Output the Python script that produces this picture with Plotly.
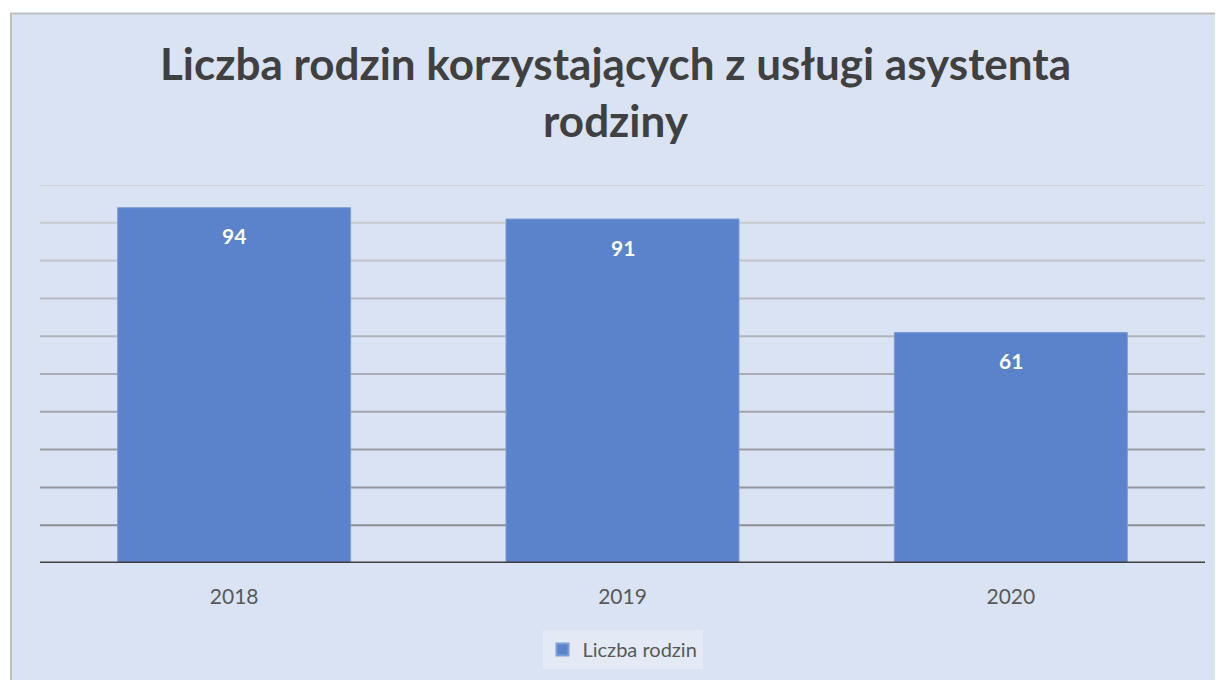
import plotly.graph_objects as go

YEARS = ["2018", "2019", "2020"]
FAMILIES = [94, 91, 61]
SERIES_NAME = "Liczba rodzin"
TITLE = "Liczba rodzin korzystających z usługi asystenta<br>rodziny"
GRID_VALUES = [10, 20, 30, 40, 50, 60, 70, 80, 90, 100]

BAR_COLOR = "#5a83cb"
CARD_BG = "#dae3f3"
TEXT_GREY = "#595959"

# page body has an 8px margin, so the figure is 8px smaller than the window
FIG_W, FIG_H = 1215, 672
L, R, T, B = 32, 18, 177, 116
W = FIG_W - L - R
H = FIG_H - T - B

fig = go.Figure()
fig.add_trace(
    go.Bar(
        x=YEARS,
        y=FAMILIES,
        name=SERIES_NAME,
        marker=dict(color=BAR_COLOR, line=dict(color="#7d9dd6", width=1)),
        showlegend=True,
    )
)

# white value labels just inside the top of each bar
# (category index, since "2018" would be read as index 2018 on a category axis)
for idx, val in enumerate(FAMILIES):
    fig.add_annotation(
        x=idx, y=val, xref="x", yref="y",
        text=str(val), showarrow=False,
        yanchor="middle", yshift=-28,
        font=dict(family="Lato", size=21, color="white", weight="bold"),
    )

# card background with grey border, running past right/bottom edges
fig.add_shape(
    type="rect",
    xref="paper", yref="paper",
    x0=(3 - L) / W, x1=(FIG_W + 10 - L) / W,
    y0=-(FIG_H + 10 - (FIG_H - B)) / H, y1=((FIG_H - B) - 5) / H,
    fillcolor=CARD_BG,
    line=dict(color="#bfbfbf", width=2),
    layer="below",
)

# gridlines fade from light (top) to dark (bottom)
n = len(GRID_VALUES)
for i, v in enumerate(GRID_VALUES):
    t = (n - 1 - i) / (n - 1)
    c = int(0xcf - (0xcf - 0x8c) * t)
    col = f"rgb({c},{c + 3},{c + 10})"
    fig.add_shape(
        type="line",
        xref="x domain", yref="y",
        x0=0, x1=1, y0=v, y1=v,
        line=dict(color=col, width=2),
        layer="below",
    )
fig.add_shape(
    type="line",
    xref="x domain", yref="y",
    x0=0, x1=1, y0=0, y1=0,
    line=dict(color="#404040", width=3),
    layer="above",
)

fig.update_layout(
    width=FIG_W,
    height=FIG_H,
    paper_bgcolor="white",
    plot_bgcolor="rgba(0,0,0,0)",
    margin=dict(l=L, r=R, t=T, b=B, pad=0),
    bargap=0.4,
    title=dict(
        text=TITLE,
        x=0.5,
        xanchor="center",
        y=1 - 72 / FIG_H,
        yanchor="top",
        yref="container",
        font=dict(family="Lato", size=44, color="#404040", weight="bold"),
    ),
    legend=dict(
        orientation="h",
        x=0.5,
        xanchor="center",
        y=-(622 - (FIG_H - B)) / H,
        yanchor="top",
        bgcolor="rgba(255,255,255,0.25)",
        font=dict(family="Lato", size=20, color=TEXT_GREY),
        itemsizing="constant",
    ),
    font=dict(family="Lato"),
)
fig.update_xaxes(
    type="category",
    showgrid=False,
    showline=False,
    ticks="outside",
    ticklen=15,
    tickcolor="rgba(0,0,0,0)",
    tickfont=dict(family="Lato", size=21, color=TEXT_GREY),
)
fig.update_yaxes(
    range=[0, 100],
    showgrid=False,
    zeroline=False,
    showticklabels=False,
    showline=False,
)

fig.write_html("out.html")
